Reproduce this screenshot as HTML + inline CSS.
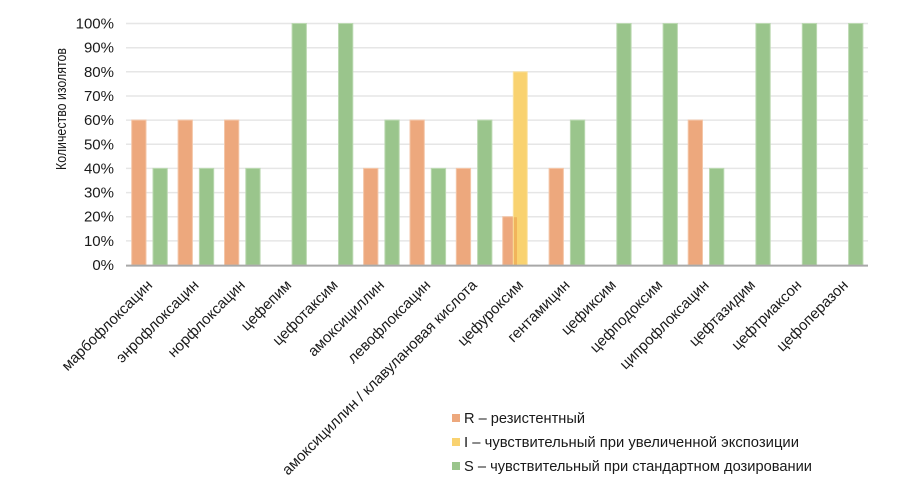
<!DOCTYPE html>
<html>
<head>
<meta charset="utf-8">
<style>
html,body{margin:0;padding:0;background:#fff;}
svg{display:block;}
text{font-family:"Liberation Sans","DejaVu Sans",sans-serif;fill:#1a1a1a;}
</style>
</head>
<body>
<svg width="918" height="501" viewBox="0 0 918 501" xmlns="http://www.w3.org/2000/svg">
  <!-- gridlines -->
  <g stroke="#E6E6E6" stroke-width="1.5">
    <line x1="126" y1="23.5" x2="868" y2="23.5"/>
    <line x1="126" y1="47.7" x2="868" y2="47.7"/>
    <line x1="126" y1="71.8" x2="868" y2="71.8"/>
    <line x1="126" y1="96" x2="868" y2="96"/>
    <line x1="126" y1="120.1" x2="868" y2="120.1"/>
    <line x1="126" y1="144.3" x2="868" y2="144.3"/>
    <line x1="126" y1="168.4" x2="868" y2="168.4"/>
    <line x1="126" y1="192.6" x2="868" y2="192.6"/>
    <line x1="126" y1="216.7" x2="868" y2="216.7"/>
    <line x1="126" y1="240.9" x2="868" y2="240.9"/>
  </g>

  <!-- y tick labels -->
  <g font-size="15" text-anchor="end">
    <text x="114" y="28.5">100%</text>
    <text x="114" y="52.7">90%</text>
    <text x="114" y="76.8">80%</text>
    <text x="114" y="101">70%</text>
    <text x="114" y="125.1">60%</text>
    <text x="114" y="149.3">50%</text>
    <text x="114" y="173.4">40%</text>
    <text x="114" y="197.6">30%</text>
    <text x="114" y="221.7">20%</text>
    <text x="114" y="245.9">10%</text>
    <text x="114" y="270">0%</text>
  </g>

  <!-- y axis title -->
  <text transform="translate(66,109) rotate(-90)" font-size="14.5" text-anchor="middle" textLength="122" lengthAdjust="spacingAndGlyphs">Количество изолятов</text>

  <!-- bars: R (orange) -->
  <g fill="#EDA87D" stroke="#F4C6A8" stroke-width="1">
    <rect x="131.7" y="120.1" width="14.3" height="144.9"/>
    <rect x="178.1" y="120.1" width="14.3" height="144.9"/>
    <rect x="224.5" y="120.1" width="14.3" height="144.9"/>
    <rect x="363.6" y="168.4" width="14.3" height="96.6"/>
    <rect x="410" y="120.1" width="14.3" height="144.9"/>
    <rect x="456.3" y="168.4" width="14.3" height="96.6"/>
    <rect x="502.7" y="216.7" width="14.3" height="48.3"/>
    <rect x="549.1" y="168.4" width="14.3" height="96.6"/>
    <rect x="688.2" y="120.1" width="14.3" height="144.9"/>
  </g>
  <!-- bars: I (yellow) -->
  <rect x="513.3" y="71.8" width="14" height="193.2" fill="#F9D270" stroke="#FBE3A3" stroke-width="1"/>
  <rect x="513.8" y="217.2" width="3.2" height="47.8" fill="#F1B45B"/>

  <!-- bars: S (green) -->
  <g fill="#9AC58C" stroke="#BBD9B1" stroke-width="1">
    <rect x="153" y="168.4" width="14.3" height="96.6"/>
    <rect x="199.4" y="168.4" width="14.3" height="96.6"/>
    <rect x="245.8" y="168.4" width="14.3" height="96.6"/>
    <rect x="292.1" y="23.5" width="14.3" height="241.5"/>
    <rect x="338.5" y="23.5" width="14.3" height="241.5"/>
    <rect x="384.9" y="120.1" width="14.3" height="144.9"/>
    <rect x="431.3" y="168.4" width="14.3" height="96.6"/>
    <rect x="477.6" y="120.1" width="14.3" height="144.9"/>
    <rect x="570.4" y="120.1" width="14.3" height="144.9"/>
    <rect x="616.8" y="23.5" width="14.3" height="241.5"/>
    <rect x="663.1" y="23.5" width="14.3" height="241.5"/>
    <rect x="709.5" y="168.4" width="14.3" height="96.6"/>
    <rect x="755.9" y="23.5" width="14.3" height="241.5"/>
    <rect x="802.3" y="23.5" width="14.3" height="241.5"/>
    <rect x="848.6" y="23.5" width="14.3" height="241.5"/>
  </g>

  <!-- x axis -->
  <line x1="126" y1="265.6" x2="868" y2="265.6" stroke="#A8A8A8" stroke-width="2"/>

  <!-- x labels -->
  <g font-size="15" text-anchor="end">
    <text transform="translate(153.2,286) rotate(-45)">марбофлоксацин</text>
    <text transform="translate(199.6,286) rotate(-45)">энрофлоксацин</text>
    <text transform="translate(245.9,286) rotate(-45)">норфлоксацин</text>
    <text transform="translate(292.3,286) rotate(-45)">цефепим</text>
    <text transform="translate(338.7,286) rotate(-45)">цефотаксим</text>
    <text transform="translate(385.1,286) rotate(-45)">амоксициллин</text>
    <text transform="translate(431.4,286) rotate(-45)">левофлоксацин</text>
    <text transform="translate(477.8,286) rotate(-45)">амоксициллин / клавулановая кислота</text>
    <text transform="translate(524.2,286) rotate(-45)">цефуроксим</text>
    <text transform="translate(570.6,286) rotate(-45)">гентамицин</text>
    <text transform="translate(616.9,286) rotate(-45)">цефиксим</text>
    <text transform="translate(663.3,286) rotate(-45)">цефподоксим</text>
    <text transform="translate(709.7,286) rotate(-45)">ципрофлоксацин</text>
    <text transform="translate(756.1,286) rotate(-45)">цефтазидим</text>
    <text transform="translate(802.4,286) rotate(-45)">цефтриаксон</text>
    <text transform="translate(848.8,286) rotate(-45)">цефоперазон</text>
  </g>

  <!-- legend -->
  <rect x="452" y="414" width="8" height="8" fill="#EDA87D"/>
  <rect x="452" y="438" width="8" height="8" fill="#F9D270"/>
  <rect x="452" y="462" width="8" height="8" fill="#9AC58C"/>
  <g font-size="14.5">
    <text x="464" y="423" textLength="121" lengthAdjust="spacingAndGlyphs">R  – резистентный</text>
    <text x="464" y="447" textLength="335" lengthAdjust="spacingAndGlyphs">I – чувствительный при увеличенной экспозиции</text>
    <text x="464" y="471" textLength="348" lengthAdjust="spacingAndGlyphs">S – чувствительный при стандартном дозировании</text>
  </g>
</svg>
</body>
</html>
